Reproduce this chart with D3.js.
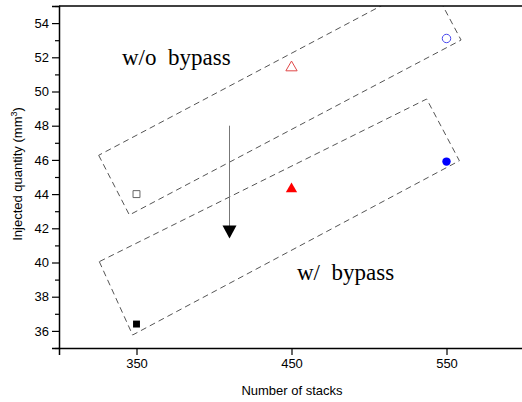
<!DOCTYPE html>
<html>
<head>
<meta charset="utf-8">
<script src="https://cdn.jsdelivr.net/npm/d3@7"></script>
<style>
  html, body { margin: 0; padding: 0; background: #fff; }
  svg { display: block; }
</style>
</head>
<body>
<svg id="chart" width="522" height="402"></svg>
<script>
// Injected quantity vs number of stacks, with and without bypass
const stacks = [350, 450, 550];
const withoutBypass = [44.0, 51.4, 53.1];
const withBypass = [36.4, 44.3, 45.9];
const shapes = ["square", "triangle", "circle"];
const colors = ["#000000", "#ff0000", "#0000ff"];
const openColors = ["#666666", "#e04848", "#4848ee"];
const xTicks = [350, 450, 550];
const yTicks = [36, 38, 40, 42, 44, 46, 48, 50, 52, 54];
const yMinorTicks = [35, 37, 39, 41, 43, 45, 47, 49, 51, 53, 55];

// Dashed group outlines (data units)
const boxWithout = [[325.6, 46.27], [345.4, 42.78], [559.4, 53.01], [538.9, 56.5]];
const boxWith = [[326.0, 40.05], [347.5, 35.76], [558.3, 45.95], [537.2, 49.56]];
// Trend arrow (data units)
const arrowX = 410, arrowFrom = 48.0, arrowTo = 41.4;

const svg = d3.select("#chart");
const mLeft = 59, mRight = 524, mTop = 6, mBottom = 348;

const x = d3.scaleLinear().domain([300, 600]).range([mLeft, mRight]);
const y = d3.scaleLinear().domain([35, 55]).range([mBottom, mTop]);

svg.append("defs").append("clipPath").attr("id", "plotClip")
  .append("rect").attr("x", mLeft).attr("y", mTop).attr("width", mRight - mLeft).attr("height", mBottom - mTop);

const plot = svg.append("g").attr("clip-path", "url(#plotClip)");

// Dashed outlines
const outline = d3.line().x(d => x(d[0])).y(d => y(d[1])).curve(d3.curveLinearClosed);
[boxWithout, boxWith].forEach(b => {
  plot.append("path").attr("d", outline(b))
    .attr("fill", "none").attr("stroke", "#555").attr("stroke-width", 1)
    .attr("stroke-dasharray", "6,4");
});

// Arrow
plot.append("line")
  .attr("x1", x(arrowX)).attr("x2", x(arrowX))
  .attr("y1", y(arrowFrom)).attr("y2", y(arrowTo) - 10)
  .attr("stroke", "#777").attr("stroke-width", 1);
plot.append("path")
  .attr("d", `M${x(arrowX) - 7},${y(arrowTo) - 13} L${x(arrowX) + 7},${y(arrowTo) - 13} L${x(arrowX)},${y(arrowTo)} Z`)
  .attr("fill", "#000");

// Markers
function symbolPath(shape) {
  const type = shape === "square" ? d3.symbolSquare : shape === "triangle" ? d3.symbolTriangle : d3.symbolCircle;
  const size = shape === "square" ? 48 : shape === "triangle" ? 55 : 56;
  return d3.symbol().type(type).size(size)();
}
stacks.forEach((s, i) => {
  plot.append("path").attr("d", symbolPath(shapes[i]))
    .attr("transform", `translate(${x(s)},${y(withoutBypass[i])})`)
    .attr("fill", "#fff").attr("stroke", openColors[i]).attr("stroke-width", 1);
  plot.append("path").attr("d", symbolPath(shapes[i]))
    .attr("transform", `translate(${x(s)},${y(withBypass[i])})`)
    .attr("fill", colors[i]).attr("stroke", "none");
});

// Axes
const font = "Liberation Sans, Arial, sans-serif";
const xAxis = svg.append("g").attr("transform", `translate(0,${mBottom})`)
  .call(d3.axisBottom(x).tickValues(xTicks).tickSize(7).tickPadding(4).tickFormat(d3.format("d")));
const yAxis = svg.append("g").attr("transform", `translate(${mLeft},0)`)
  .call(d3.axisLeft(y).tickValues(yTicks).tickSize(7).tickPadding(3).tickFormat(d3.format("d")));
svg.append("g").attr("transform", `translate(${mLeft},0)`)
  .call(d3.axisLeft(y).tickValues(yMinorTicks).tickSize(4).tickFormat(""))
  .call(g => g.select(".domain").remove());

[xAxis, yAxis].forEach(g => {
  g.select(".domain").attr("stroke", "#000").attr("stroke-width", 1.5);
  g.selectAll(".tick text").attr("font-family", font).attr("font-size", 13).attr("fill", "#000");
});
svg.selectAll(".tick line").attr("stroke", "#000").attr("stroke-width", 1.2);

// Top and right frame
svg.append("line").attr("x1", mLeft).attr("x2", mRight).attr("y1", mTop).attr("y2", mTop)
  .attr("stroke", "#000").attr("stroke-width", 1.5);
svg.append("line").attr("x1", mRight).attr("x2", mRight).attr("y1", mTop).attr("y2", mBottom)
  .attr("stroke", "#000").attr("stroke-width", 1.5);

// Axis titles
svg.append("text").attr("x", 292).attr("y", 395)
  .attr("text-anchor", "middle").attr("font-family", font).attr("font-size", 13)
  .text("Number of stacks");
const yt = svg.append("text").attr("transform", `translate(22,174) rotate(-90)`)
  .attr("text-anchor", "middle").attr("font-family", font).attr("font-size", 13);
yt.append("tspan").text("Injected quantity (mm");
yt.append("tspan").attr("font-size", 9).attr("dy", -5).text("3");
yt.append("tspan").attr("dy", 5).text(")");

// Group labels
const serif = "Liberation Serif, Times New Roman, serif";
svg.append("text").attr("x", 122).attr("y", 65).attr("font-family", serif).attr("font-size", 23)
  .attr("xml:space", "preserve").text("w/o  bypass");
svg.append("text").attr("x", 297).attr("y", 280).attr("font-family", serif).attr("font-size", 23)
  .attr("xml:space", "preserve").text("w/  bypass");
</script>
</body>
</html>
